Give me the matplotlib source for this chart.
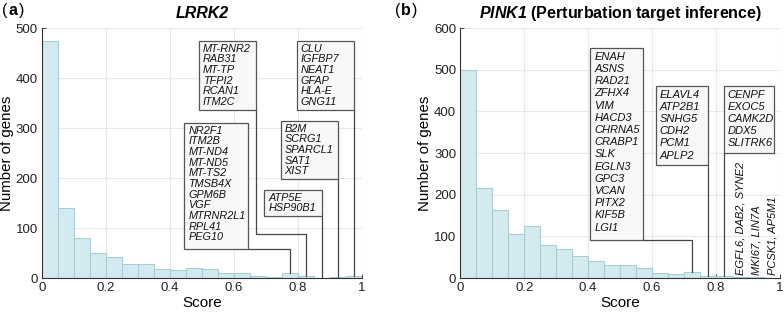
import numpy as np
import matplotlib.pyplot as plt
from matplotlib.patches import Rectangle

plt.rcParams['font.family'] = ['Liberation Sans', 'DejaVu Sans']
plt.rcParams['mathtext.fontset'] = 'custom'
plt.rcParams['mathtext.bf'] = 'Liberation Sans:bold:italic'

# histogram counts, 20 bins of width 0.05 on [0, 1]
bin_edges = np.linspace(0, 1, 21)
lrrk2_counts = [475, 141, 81, 51, 43, 29, 29, 19, 16, 21,
                18, 11, 10, 5, 3, 11, 5, 1, 3, 5]
pink1_counts = [500, 216, 163, 105, 124, 80, 70, 53, 41, 32,
                32, 25, 13, 10, 15, 5, 4, 3, 2, 1]

# gene boxes for panel (a)
lrrk2_box_nr2f1 = ['NR2F1', 'ITM2B', 'MT-ND4', 'MT-ND5', 'MT-TS2', 'TMSB4X',
                   'GPM6B', 'VGF', 'MTRNR2L1', 'RPL41', 'PEG10']
lrrk2_box_mtrnr2 = ['MT-RNR2', 'RAB31', 'MT-TP', 'TFPI2', 'RCAN1', 'ITM2C']
lrrk2_box_atp5e = ['ATP5E', 'HSP90B1']
lrrk2_box_b2m = ['B2M', 'SCRG1', 'SPARCL1', 'SAT1', 'XIST']
lrrk2_box_clu = ['CLU', 'IGFBP7', 'NEAT1', 'GFAP', 'HLA-E', 'GNG11']

# gene boxes for panel (b)
pink1_box_enah = ['ENAH', 'ASNS', 'RAD21', 'ZFHX4', 'VIM', 'HACD3', 'CHRNA5',
                  'CRABP1', 'SLK', 'EGLN3', 'GPC3', 'VCAN', 'PITX2', 'KIF5B', 'LGI1']
pink1_box_elavl4 = ['ELAVL4', 'ATP2B1', 'SNHG5', 'CDH2', 'PCM1', 'APLP2']
pink1_box_cenpf = ['CENPF', 'EXOC5', 'CAMK2D', 'DDX5', 'SLITRK6']
pink1_vertical = ['EGFL6, DAB2, SYNE2', 'MKI67, LIN7A', 'PCSK1, AP5M1']

centers = (bin_edges[:-1] + bin_edges[1:]) / 2

BAR_FC = '#d3ebf0'
BAR_EC = '#aacdd5'
LINE_C = '#444444'


def setup(ax, counts, ymax):
    ax.bar(centers, counts, width=0.05, color=BAR_FC, edgecolor=BAR_EC,
           linewidth=0.8, zorder=2)
    ax.set_xlim(0, 1)
    ax.set_ylim(0, ymax)
    ax.set_xticks(np.arange(0, 1.01, 0.2))
    ax.set_xticklabels(['0', '0.2', '0.4', '0.6', '0.8', '1'])
    ax.grid(True, color='#e8e8e8', linewidth=0.8, zorder=0)
    ax.set_axisbelow(True)
    for s in ['top', 'right']:
        ax.spines[s].set_visible(False)
    for s in ['left', 'bottom']:
        ax.spines[s].set_color('#333333')
        ax.spines[s].set_linewidth(0.8)
    ax.tick_params(direction='in', length=3, labelsize=9.5, colors='#222222',
                   width=0.6, pad=3)
    ax.set_xlabel('Score', fontsize=11, labelpad=1)
    ax.set_ylabel('Number of genes', fontsize=10.8, labelpad=1)


def gene_box(ax, genes, x0, x1, ytop, ybot, pitch, fs, pad_x=0.012, pad_top=None):
    ax.add_patch(Rectangle((x0, ybot), x1 - x0, ytop - ybot, facecolor='#f8f8f8',
                           edgecolor='#555555', linewidth=0.9, zorder=4))
    if pad_top is None:
        pad_top = pitch * 0.3
    for i, g in enumerate(genes):
        ax.text(x0 + pad_x, ytop - pad_top - i * pitch, g, fontsize=fs,
                style='italic', va='top', ha='left', zorder=5, color='#111111')


def leader(ax, xs, ys):
    ax.plot(xs, ys, color=LINE_C, linewidth=0.9, zorder=3, solid_joinstyle='miter')


fig = plt.figure(figsize=(7.84, 3.14), dpi=100)
ax1 = fig.add_axes([0.0536, 0.1146, 0.4081, 0.7962])
ax2 = fig.add_axes([0.5871, 0.1146, 0.4078, 0.7962])

# ---- panel (a)
setup(ax1, lrrk2_counts, 500)
ax1.set_yticks(range(0, 501, 100))
ax1.set_title('LRRK2', fontsize=11.5, fontweight='bold', style='italic', pad=7)
c = lrrk2_counts
fs_a = 7.8
pa = 21.3
gene_box(ax1, lrrk2_box_mtrnr2, 0.491, 0.669, 475, 336, pa, fs_a)
gene_box(ax1, lrrk2_box_clu, 0.796, centers[19], 475, 336, pa, fs_a)
gene_box(ax1, lrrk2_box_nr2f1, 0.445, 0.644, 311, 59, pa, fs_a)
gene_box(ax1, lrrk2_box_b2m, 0.746, centers[18], 315, 198, pa, fs_a)
gene_box(ax1, lrrk2_box_atp5e, 0.695, centers[17], 177, 125, pa, fs_a)
leader(ax1, [0.644, centers[15], centers[15]], [59, 59, c[15]])
leader(ax1, [0.669, 0.669, centers[16], centers[16]], [336, 89, 89, c[16]])
leader(ax1, [centers[17], centers[17]], [125, c[17]])
leader(ax1, [centers[18], centers[18]], [198, c[18]])
leader(ax1, [centers[19], centers[19]], [336, c[19]])

# ---- panel (b)
setup(ax2, pink1_counts, 600)
ax2.set_yticks(range(0, 601, 100))
ax2.set_title(r'$\mathbf{PINK1}$' + ' (Perturbation target inference)',
              fontsize=11.5, fontweight='bold', pad=7)
c = pink1_counts
fs_b = 8.0
pb = 29.3
gene_box(ax2, pink1_box_enah, 0.407, 0.571, 552, 92, pb, fs_b)
gene_box(ax2, pink1_box_elavl4, 0.612, centers[15], 461, 272, pb, fs_b)
gene_box(ax2, pink1_box_cenpf, centers[16], 0.981, 461, 301, pb, fs_b)
leader(ax2, [0.571, centers[14], centers[14]], [92, 92, c[14]])
leader(ax2, [centers[15], centers[15]], [272, c[15]])
leader(ax2, [centers[16], centers[16]], [301, c[16]])
for k, txt in enumerate(pink1_vertical):
    ax2.text(centers[17 + k], 8, txt, rotation=90, fontsize=fs_b, style='italic',
             ha='center', va='bottom', zorder=5, color='#111111')

# panel labels
fig.text(0.003, 0.965, '(', fontsize=11.5, va='center')
fig.text(0.0105, 0.965, 'a', fontsize=11.5, fontweight='bold', va='center')
fig.text(0.0245, 0.965, ')', fontsize=11.5, va='center')
fig.text(0.504, 0.965, '(', fontsize=11.5, va='center')
fig.text(0.5115, 0.965, 'b', fontsize=11.5, fontweight='bold', va='center')
fig.text(0.526, 0.965, ')', fontsize=11.5, va='center')

fig.savefig('out.png', dpi=100)
